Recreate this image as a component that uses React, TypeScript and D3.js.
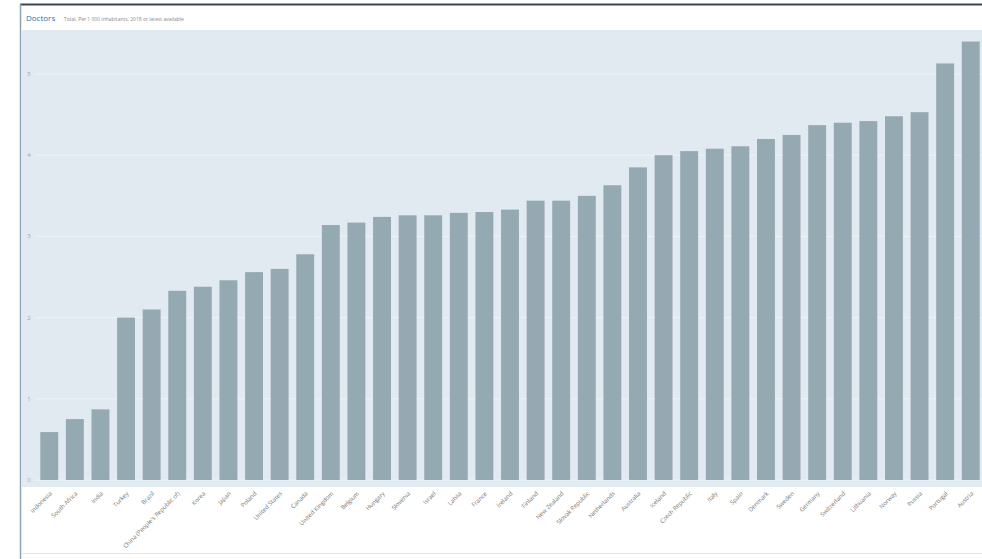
import * as d3 from 'd3';
import React from 'react';

const W = 982;
const H = 559;

// countries sorted ascending, doctors per 1 000 inhabitants
const countries = [
  'Indonesia', 'South Africa', 'India', 'Turkey', 'Brazil',
  "China (People's Republic of)", 'Korea', 'Japan', 'Poland', 'United States',
  'Canada', 'United Kingdom', 'Belgium', 'Hungary', 'Slovenia',
  'Israel', 'Latvia', 'France', 'Ireland', 'Finland',
  'New Zealand', 'Slovak Republic', 'Netherlands', 'Australia', 'Iceland',
  'Czech Republic', 'Italy', 'Spain', 'Denmark', 'Sweden',
  'Germany', 'Switzerland', 'Lithuania', 'Norway', 'Russia',
  'Portugal', 'Austria',
];
const values = [
  0.59, 0.75, 0.87, 2.0, 2.1,
  2.33, 2.38, 2.46, 2.56, 2.6,
  2.78, 3.14, 3.17, 3.24, 3.26,
  3.26, 3.29, 3.3, 3.33, 3.44,
  3.44, 3.5, 3.63, 3.85, 4.0,
  4.05, 4.08, 4.11, 4.2, 4.25,
  4.37, 4.4, 4.42, 4.48, 4.53,
  5.13, 5.4,
];
const yTicks = [0, 1, 2, 3, 4, 5];

const plot = { left: 22, right: 982, top: 30, bottom: 487 };

export default function App() {
  const x = d3
    .scaleBand<string>()
    .domain(countries)
    .range([40.3, 979.7])
    .paddingInner(0.3)
    .paddingOuter(0);

  const y = d3.scaleLinear().domain([0, 5]).range([480, 74]);

  return (
    <svg
      width={W}
      height={H}
      style={{ position: 'fixed', left: 0, top: 0, background: '#fff' }}
      fontFamily="'Open Sans', Arial, sans-serif"
    >
      {/* frame */}
      <line x1={20} x2={W} y1={4.5} y2={4.5} stroke="#3b4650" strokeWidth={2} />
      <line x1={20.5} x2={20.5} y1={4} y2={H} stroke="#8ea3b3" strokeWidth={1.5} />
      <text x={26} y={21} fontSize={8} fill="#2f6fb3">Doctors</text>
      <text x={64} y={21} fontSize={5} fill="#888">
        Total, Per 1 000 inhabitants, 2018 or latest available
      </text>

      {/* plot background */}
      <rect
        x={plot.left}
        y={plot.top}
        width={plot.right - plot.left}
        height={plot.bottom - plot.top}
        fill="#e2eaf1"
      />

      {yTicks.map((t) => (
        <g key={t}>
          <line x1={plot.left + 14} x2={plot.right} y1={y(t)} y2={y(t)} stroke="#eef3f7" strokeWidth={1} />
          <text x={29} y={y(t) + 2} fontSize={6} fill="#9aa6ae" textAnchor="middle">
            {t}
          </text>
        </g>
      ))}

      {countries.map((c, i) => (
        <rect
          key={c}
          x={x(c)}
          y={y(values[i])}
          width={x.bandwidth()}
          height={y(0) - y(values[i])}
          fill="#95a9b2"
        />
      ))}

      {countries.map((c) => {
        const cx = (x(c) ?? 0) + x.bandwidth() / 2 + 3;
        return (
          <text
            key={c}
            transform={`translate(${cx},${494}) rotate(-45)`}
            fontSize={6}
            fill="#777"
            textAnchor="end"
          >
            {c}
          </text>
        );
      })}

      <line x1={22} x2={W} y1={553.5} y2={553.5} stroke="#e6e6e6" strokeWidth={1} />
    </svg>
  );
}
